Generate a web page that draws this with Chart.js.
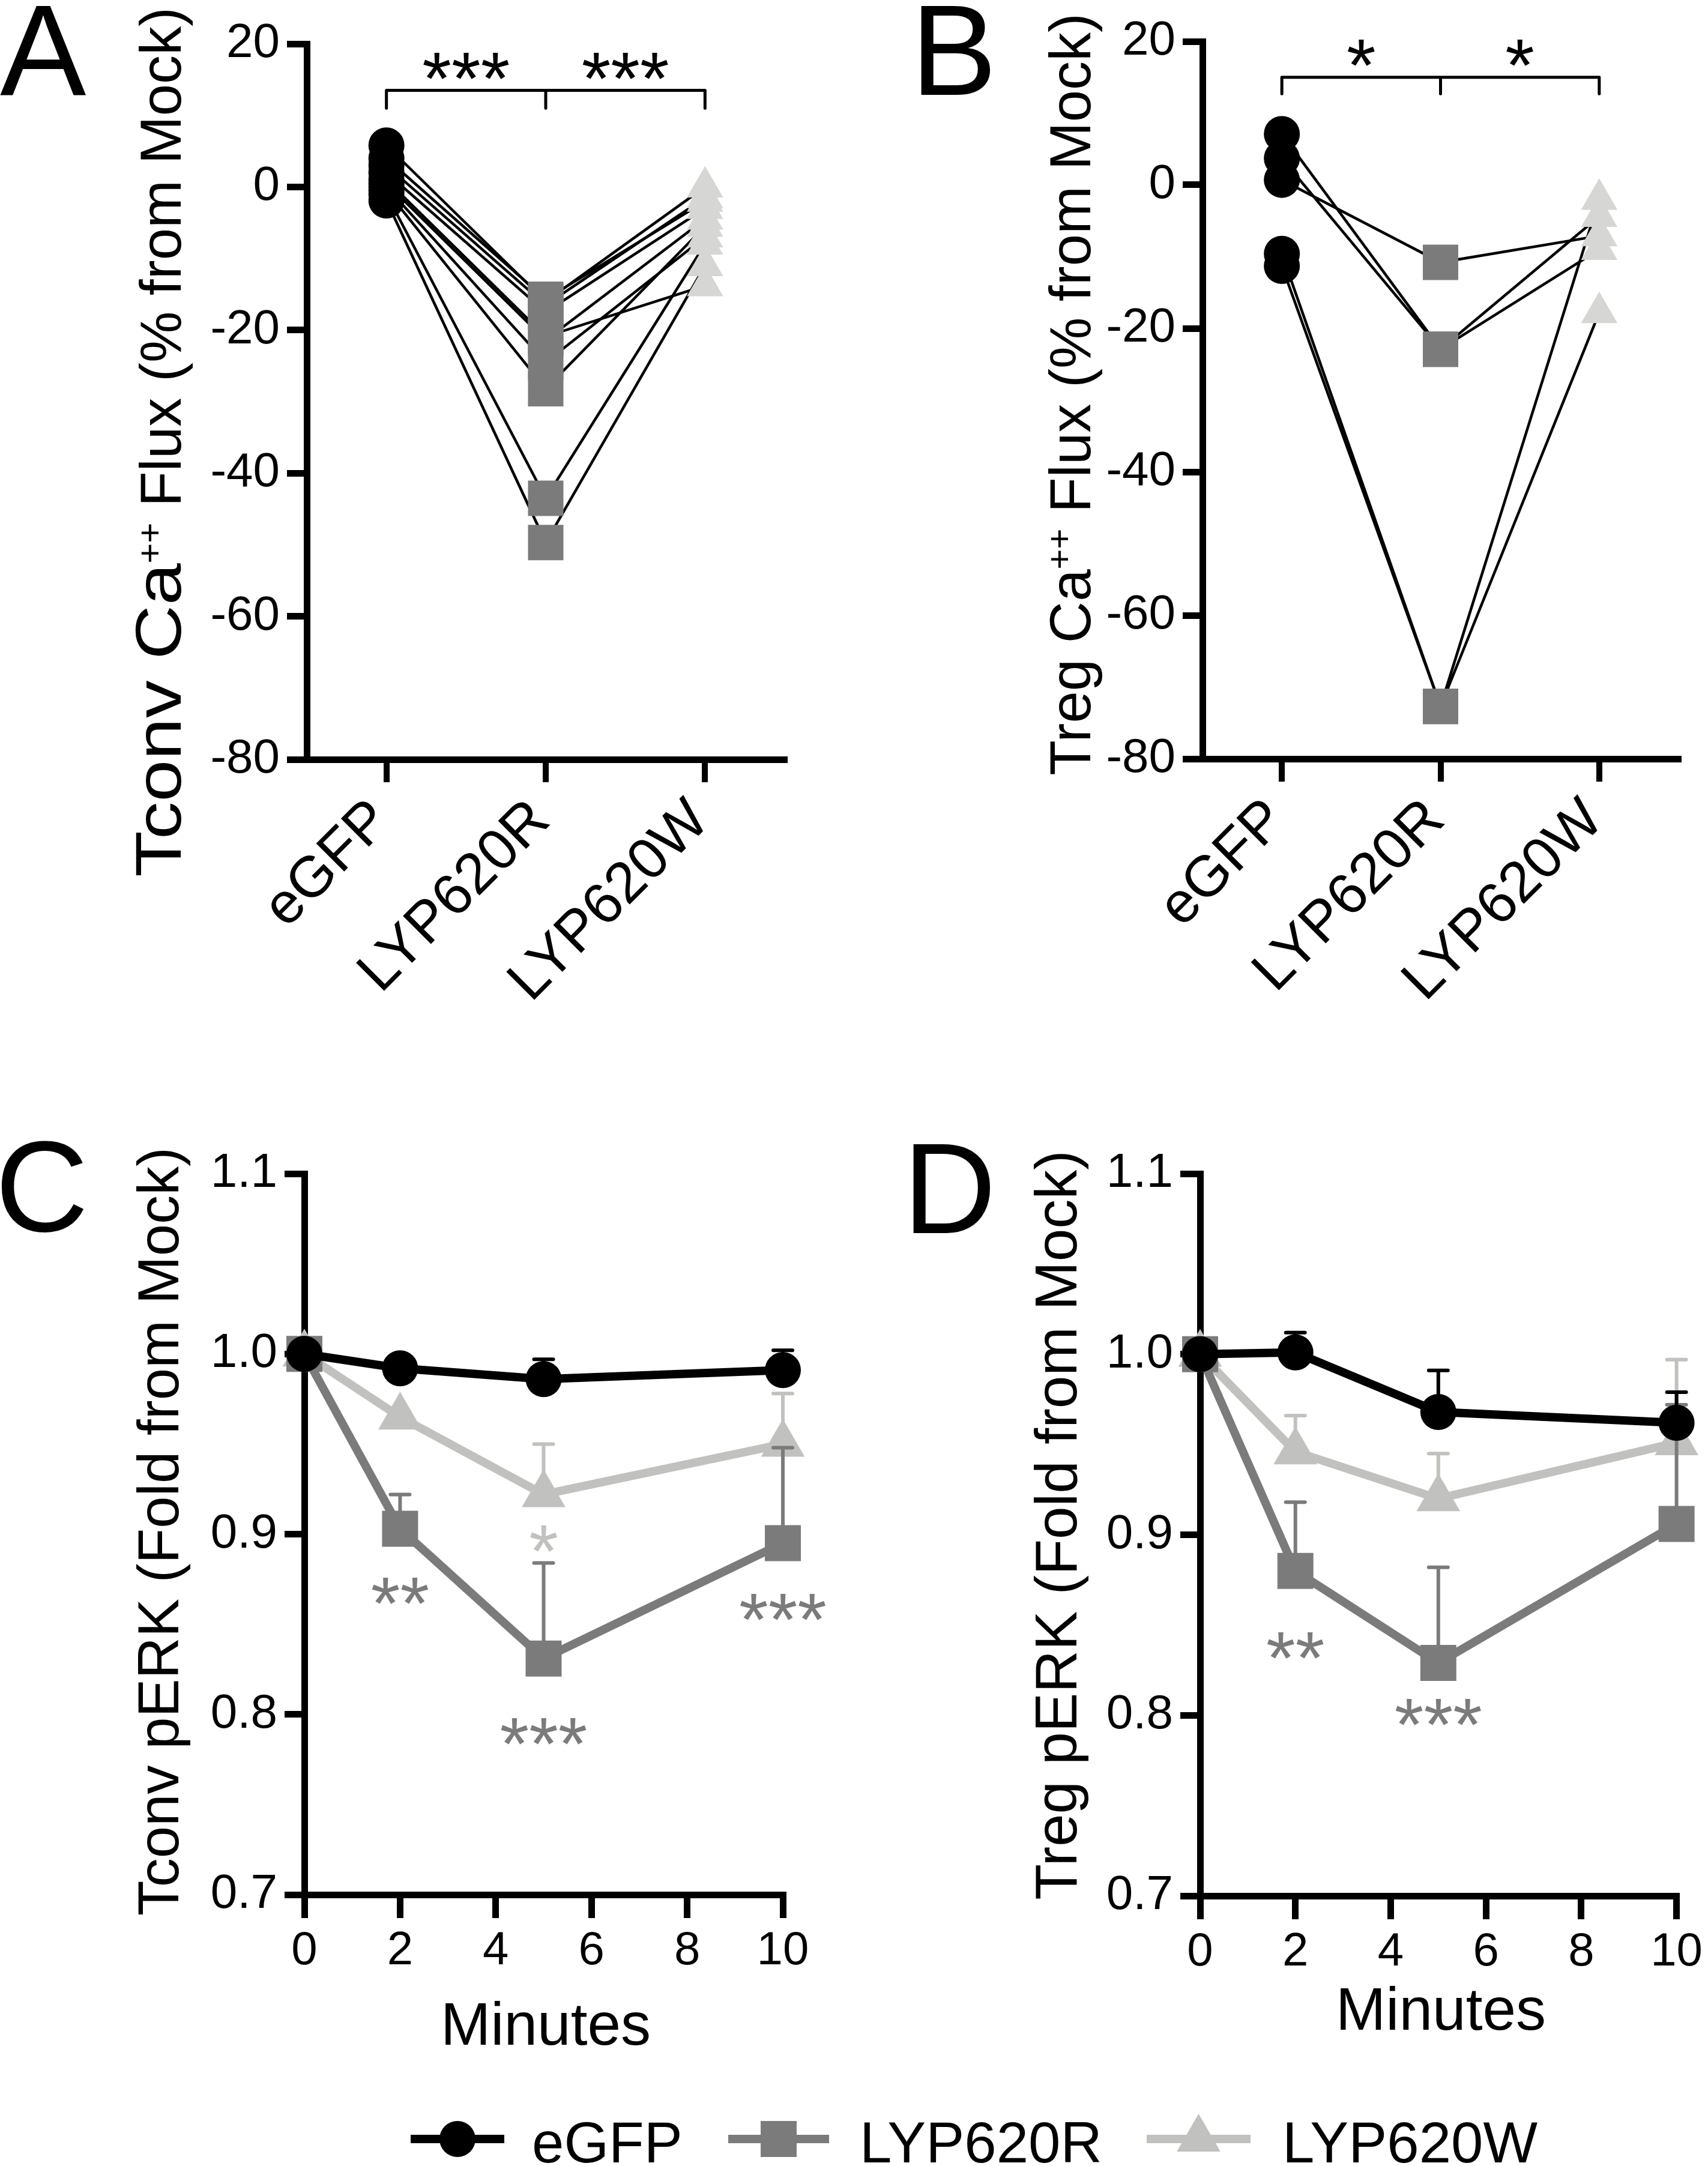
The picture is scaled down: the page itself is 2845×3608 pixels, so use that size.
<!DOCTYPE html>
<html>
<head>
<meta charset="utf-8">
<title>LYP620 Ca flux and pERK</title>
<script src="https://cdn.jsdelivr.net/npm/chart.js@4.4.1/dist/chart.umd.min.js"></script>
<style>
  html, body { margin: 0; padding: 0; background: #fff; }
  #fig { position: relative; width: 2845px; height: 3608px; overflow: hidden; background: #fff; }
  #fig canvas { position: absolute; }
</style>
</head>
<body>
<div id="fig">
  <canvas id="panelA" width="1420" height="1760" style="left:0;top:0;width:1420px;height:1760px"></canvas>
  <canvas id="panelB" width="1425" height="1760" style="left:1420px;top:0;width:1425px;height:1760px"></canvas>
  <canvas id="panelC" width="1420" height="1650" style="left:0;top:1800px;width:1420px;height:1650px"></canvas>
  <canvas id="panelD" width="1425" height="1650" style="left:1420px;top:1800px;width:1425px;height:1650px"></canvas>
  <canvas id="legend" width="2845" height="148" style="left:0;top:3460px;width:2845px;height:148px"></canvas>
</div>
<script>
'use strict';

// ---- data ----
var groups = ['eGFP', 'LYP620R', 'LYP620W'];
var seriesNames = ['eGFP', 'LYP620R', 'LYP620W'];

// A: Tconv Ca++ flux, one entry per donor (paired)
var tconvCaEgfp = [5.8, 3.0, 2.0, 1.0, 0.5, 0.0, -0.5, -1.0, -1.9, 4.0];
var tconvCaR    = [-16.0, -16.5, -17.5, -20.9, -21.4, -24.5, -28.2, -43.5, -49.7, -15.7];
var tconvCaW    = [0.0, -1.5, -3.0, -13.8, -4.5, -7.0, -5.5, -8.0, -11.0, -2.0];
var tconvCaStars = ['***', '***'];

// B: Treg Ca++ flux
var tregCaEgfp = [7.1, 3.7, 0.7, -9.6, -11.3];
var tregCaR    = [-22.9, -22.9, -10.8, -72.7, -72.7];
var tregCaW    = [-4.4, -9.0, -7.1, -2.0, -17.8];
var tregCaStars = ['*', '*'];

var caTicks = [20, 0, -20, -40, -60, -80];

// C / D: pERK time course
var minutes = [0, 2, 5, 10];
var minuteTicks = [0, 2, 4, 6, 8, 10];
var perkTicks = [0.7, 0.8, 0.9, 1.0, 1.1];

var tconvPerkEgfp    = [1.0, 0.992, 0.986, 0.991];
var tconvPerkEgfpErr = [0, 0, 0.011, 0.011];
var tconvPerkR       = [1.0, 0.903, 0.831, 0.895];
var tconvPerkRErr    = [0, 0.019, 0.053, 0.053];
var tconvPerkW       = [1.0, 0.965, 0.922, 0.950];
var tconvPerkWErr    = [0, 0, 0.028, 0.028];

var tregPerkEgfp    = [1.0, 1.001, 0.968, 0.962];
var tregPerkEgfpErr = [0, 0.011, 0.023, 0.017];
var tregPerkR       = [1.0, 0.880, 0.829, 0.906];
var tregPerkRErr    = [0, 0.038, 0.053, 0.066];
var tregPerkW       = [1.0, 0.946, 0.920, 0.951];
var tregPerkWErr    = [0, 0.020, 0.025, 0.046];

// significance marks (x in minutes, y in fold units)
var tconvStarX    = [2, 5, 5, 10];
var tconvStarY    = [0.871, 0.900, 0.793, 0.862];
var tconvStarText = ['**', '*', '***', '***'];
var tconvStarTone = ['dark', 'light', 'dark', 'dark'];
var tregStarX    = [2, 5];
var tregStarY    = [0.841, 0.804];
var tregStarText = ['**', '***'];
var tregStarTone = ['dark', 'dark'];

// ---- styles ----
var FONT = "'Liberation Sans', Arial, Helvetica, sans-serif";
var BLACK = '#000000';
var DARK = '#7b7b7b';
var LIGHT = '#c1c1bf';
var PALE = '#d6d6d4';
var TONES = { dark: DARK, light: LIGHT };
var LETTER_SIZE = 215;
var STAR_SIZE = 125;

var perkStyles = [
  { color: BLACK, pointStyle: 'circle', radius: 30 },
  { color: DARK, pointStyle: 'rect', radius: 42.4 },
  { color: LIGHT, pointStyle: 'triangle', radius: 42 }
];

function drawMarker(ctx, style, r, x, y) {
  ctx.beginPath();
  if (style === 'circle') {
    ctx.arc(x, y, r, 0, Math.PI * 2);
  } else if (style === 'rect') {
    var s = r * Math.SQRT1_2;
    ctx.rect(x - s, y - s, 2 * s, 2 * s);
  } else {
    for (var k = 0; k < 3; k++) {
      var a = k * 2 * Math.PI / 3;
      var px = x + Math.sin(a) * r, py = y - Math.cos(a) * r;
      if (k === 0) ctx.moveTo(px, py); else ctx.lineTo(px, py);
    }
    ctx.closePath();
  }
  ctx.fill();
}

// parts: [text, size, stretch, raise]
function drawYTitle(ctx, t) {
  ctx.save();
  ctx.translate(t.x, t.end);
  ctx.rotate(-Math.PI / 2);
  ctx.textAlign = 'left';
  ctx.textBaseline = 'alphabetic';
  ctx.fillStyle = BLACK;
  var widths = [], total = 0, i, p;
  for (i = 0; i < t.parts.length; i++) {
    p = t.parts[i];
    ctx.font = p[1] + 'px ' + FONT;
    widths.push(ctx.measureText(p[0]).width * p[2]);
    total += widths[i];
  }
  var x = -total;
  for (i = 0; i < t.parts.length; i++) {
    p = t.parts[i];
    ctx.save();
    ctx.font = p[1] + 'px ' + FONT;
    ctx.translate(x, -p[3]);
    ctx.scale(p[2], 1);
    ctx.fillText(p[0], 0, 0);
    ctx.restore();
    x += widths[i];
  }
  ctx.restore();
}

function drawBracket(chart, b) {
  var ctx = chart.ctx;
  var ys = chart.scales.y, xs = chart.scales.x;
  var yLine = ys.getPixelForValue(b.value);
  var yLeg = ys.getPixelForValue(b.leg);
  var px = [xs.getPixelForValue(0), xs.getPixelForValue(1), xs.getPixelForValue(2)];
  ctx.strokeStyle = BLACK;
  ctx.lineWidth = 5;
  ctx.lineCap = 'round';
  ctx.beginPath();
  ctx.moveTo(px[0], yLine);
  ctx.lineTo(px[2], yLine);
  for (var i = 0; i < 3; i++) {
    ctx.moveTo(px[i], yLine);
    ctx.lineTo(px[i], yLeg);
  }
  ctx.stroke();
  ctx.fillStyle = BLACK;
  ctx.font = STAR_SIZE + 'px ' + FONT;
  ctx.textAlign = 'center';
  ctx.textBaseline = 'alphabetic';
  for (var j = 0; j < 2; j++) {
    ctx.fillText(b.stars[j], (px[j] + px[j + 1]) / 2, yLine - 48 + 0.57 * STAR_SIZE);
  }
}

function drawStars(chart, s) {
  var ctx = chart.ctx;
  ctx.font = STAR_SIZE + 'px ' + FONT;
  ctx.textAlign = 'center';
  ctx.textBaseline = 'alphabetic';
  for (var i = 0; i < s.x.length; i++) {
    ctx.fillStyle = TONES[s.tone[i]];
    ctx.fillText(s.text[i], chart.scales.x.getPixelForValue(s.x[i]),
      chart.scales.y.getPixelForValue(s.y[i]) + 0.57 * STAR_SIZE);
  }
}

function decorPlugin(spec) {
  return {
    id: 'decor',
    afterDraw: function (chart) {
      var ctx = chart.ctx;
      ctx.save();
      ctx.fillStyle = BLACK;
      ctx.textAlign = 'left';
      ctx.textBaseline = 'alphabetic';
      ctx.font = LETTER_SIZE + 'px ' + FONT;
      ctx.fillText(spec.letter[0], spec.letter[1], spec.letter[2]);
      drawYTitle(ctx, spec.yTitle);
      if (spec.xTitle) {
        ctx.fillStyle = BLACK;
        ctx.font = '100px ' + FONT;
        ctx.textAlign = 'center';
        ctx.fillText(spec.xTitle[0], spec.xTitle[1], spec.xTitle[2]);
      }
      if (spec.bracket) drawBracket(chart, spec.bracket);
      if (spec.stars) drawStars(chart, spec.stars);
      ctx.restore();
    }
  };
}

var errorBarPlugin = {
  id: 'errorBars',
  afterDatasetDraw: function (chart, args) {
    var ds = chart.data.datasets[args.index];
    if (!ds.errors) return;
    var ctx = chart.ctx, ys = chart.scales.y;
    ctx.save();
    ctx.strokeStyle = ds.borderColor;
    ctx.lineWidth = 6;
    ctx.lineCap = 'round';
    for (var i = 0; i < ds.data.length; i++) {
      var e = ds.errors[i];
      if (!e) continue;
      var pt = args.meta.data[i];
      var top = ys.getPixelForValue(ds.data[i].y + e);
      ctx.beginPath();
      ctx.moveTo(pt.x, pt.y);
      ctx.lineTo(pt.x, top);
      ctx.moveTo(pt.x - 16, top);
      ctx.lineTo(pt.x + 16, top);
      ctx.stroke();
    }
    ctx.restore();
  }
};

function yAxis(min, max, ticks, width, fmt) {
  return {
    type: 'linear',
    min: min,
    max: max,
    afterFit: function (s) { s.width = width; },
    afterBuildTicks: function (s) { s.ticks = ticks.map(function (v) { return { value: v }; }); },
    grid: { drawOnChartArea: false, drawTicks: true, tickLength: 33, tickWidth: 11, tickColor: BLACK, lineWidth: 11, color: BLACK },
    border: { display: true, color: BLACK, width: 11 },
    ticks: { color: BLACK, padding: 12, font: { family: FONT, size: 80 }, callback: fmt }
  };
}

function baseOptions(padding, scales) {
  return {
    responsive: false,
    animation: false,
    devicePixelRatio: 1,
    events: [],
    layout: { padding: padding },
    plugins: { legend: { display: false }, tooltip: { enabled: false } },
    scales: scales
  };
}

function makeCaPanel(id, egfp, r, w, spec) {
  var sets = [];
  for (var i = 0; i < egfp.length; i++) {
    sets.push({
      data: [egfp[i], r[i], w[i]],
      borderColor: BLACK, borderWidth: 4.5, pointRadius: 0, tension: 0, clip: false, order: 2
    });
  }
  var cols = [egfp, r, w];
  var looks = [['circle', 30, BLACK], ['rect', 41.7, DARK], ['triangle', 35, PALE]];
  for (var c = 0; c < 3; c++) {
    sets.push({
      data: cols[c].map(function (v) { return { x: groups[c], y: v }; }),
      showLine: false, pointStyle: looks[c][0], pointRadius: looks[c][1],
      pointBackgroundColor: looks[c][2], pointBorderWidth: 0, clip: false, order: 1
    });
  }
  return new Chart(document.getElementById(id), {
    type: 'line',
    data: { labels: groups, datasets: sets },
    options: baseOptions(spec.padding, {
      x: {
        type: 'category',
        offset: true,
        afterFit: function (s) { s.height = spec.xHeight; },
        grid: { drawOnChartArea: false, drawTicks: true, tickLength: 38, tickWidth: 10, tickColor: BLACK, lineWidth: 10, color: BLACK },
        border: { display: true, color: BLACK, width: 11 },
        ticks: { color: BLACK, autoSkip: false, minRotation: 45, maxRotation: 45, padding: 8, labelOffset: -8, font: { family: FONT, size: 96 } }
      },
      y: yAxis(-80, 20, caTicks, spec.yWidth, function (v) { return String(v); })
    }),
    plugins: [decorPlugin(spec)]
  });
}

function perkSeries(vals, errs, k) {
  var st = perkStyles[k];
  return {
    label: seriesNames[k],
    data: minutes.map(function (m, i) { return { x: m, y: vals[i] }; }),
    errors: errs,
    borderColor: st.color, backgroundColor: st.color, borderWidth: 14, tension: 0,
    pointStyle: st.pointStyle, pointRadius: st.radius, pointBackgroundColor: st.color,
    pointBorderWidth: 0, clip: false
  };
}

function makePerkPanel(id, sets, spec) {
  return new Chart(document.getElementById(id), {
    type: 'line',
    data: { datasets: sets },
    options: baseOptions(spec.padding, {
      x: {
        type: 'linear',
        min: 0,
        max: 10,
        afterFit: function (s) { s.height = spec.xHeight; },
        afterBuildTicks: function (s) { s.ticks = minuteTicks.map(function (v) { return { value: v }; }); },
        grid: { drawOnChartArea: false, drawTicks: true, tickLength: 39, tickWidth: 11, tickColor: BLACK, lineWidth: 11, color: BLACK },
        border: { display: true, color: BLACK, width: 11 },
        ticks: { color: BLACK, padding: 9, font: { family: FONT, size: 78 }, callback: function (v) { return String(v); } }
      },
      y: yAxis(0.7, 1.1, perkTicks, spec.yWidth, function (v) { return v.toFixed(1); })
    }),
    plugins: [errorBarPlugin, decorPlugin(spec)]
  });
}

makeCaPanel('panelA', tconvCaEgfp, tconvCaR, tconvCaW, {
  padding: { left: 0, top: 73, right: 113, bottom: 0 },
  yWidth: 511, xHeight: 495,
  letter: ['A', 0, 158],
  yTitle: {
    parts: [['Tconv Ca', 108, 1.16, 0], ['++', 58, 1, 32], [' Flux (% from Mock)', 96, 1, 0]],
    x: 301, end: 12
  },
  bracket: { value: 13.5, leg: 11.0, stars: tconvCaStars }
});

makeCaPanel('panelB', tregCaEgfp, tregCaR, tregCaW, {
  padding: { left: 0, top: 69, right: 49, bottom: 0 },
  yWidth: 583, xHeight: 496,
  letter: ['B', 97, 158],
  yTitle: {
    parts: [['Treg Ca', 96, 1, 0], ['++', 58, 1, 32], [' Flux (% from Mock)', 96, 1, 0]],
    x: 396, end: 22
  },
  bracket: { value: 15.0, leg: 12.7, stars: tregCaStars }
});

makePerkPanel('panelC', [
  perkSeries(tconvPerkEgfp, tconvPerkEgfpErr, 0),
  perkSeries(tconvPerkR, tconvPerkRErr, 1),
  perkSeries(tconvPerkW, tconvPerkWErr, 2)
], {
  padding: { left: 0, top: 155, right: 116, bottom: 0 },
  yWidth: 507, xHeight: 294,
  letter: ['C', -8, 251],
  yTitle: { parts: [['Tconv pERK (Fold from Mock)', 96, 1, 0]], x: 297, end: 111 },
  xTitle: ['Minutes', 909, 1606],
  stars: { x: tconvStarX, y: tconvStarY, text: tconvStarText, tone: tconvStarTone }
});

makePerkPanel('panelD', [
  perkSeries(tregPerkEgfp, tregPerkEgfpErr, 0),
  perkSeries(tregPerkR, tregPerkRErr, 1),
  perkSeries(tregPerkW, tregPerkWErr, 2)
], {
  padding: { left: 0, top: 155, right: 44, bottom: 0 },
  yWidth: 579, xHeight: 292,
  letter: ['D', 84, 254],
  yTitle: { parts: [['Treg pERK (Fold from Mock)', 98, 1, 0]], x: 373, end: 116 },
  xTitle: ['Minutes', 980, 1581],
  stars: { x: tregStarX, y: tregStarY, text: tregStarText, tone: tregStarTone }
});

// shared legend: line + marker, then name
var legendSpots = [[684, 840, 886], [1213, 1381, 1432], [1910, 2083, 2136]];
var legendPlugin = {
  id: 'lineLegend',
  afterDraw: function (chart) {
    var ctx = chart.ctx;
    ctx.save();
    chart.data.datasets.forEach(function (ds, i) {
      var s = legendSpots[i], yMid = 103;
      ctx.strokeStyle = ds.borderColor;
      ctx.lineWidth = ds.borderWidth;
      ctx.beginPath();
      ctx.moveTo(s[0], yMid);
      ctx.lineTo(s[1], yMid);
      ctx.stroke();
      ctx.fillStyle = ds.pointBackgroundColor;
      drawMarker(ctx, ds.pointStyle, ds.pointRadius, (s[0] + s[1]) / 2, yMid);
      ctx.fillStyle = BLACK;
      ctx.font = '96px ' + FONT;
      ctx.textAlign = 'left';
      ctx.textBaseline = 'alphabetic';
      ctx.fillText(ds.label, s[2], 142);
    });
    ctx.restore();
  }
};

new Chart(document.getElementById('legend'), {
  type: 'line',
  data: {
    datasets: perkStyles.map(function (st, k) {
      return {
        label: seriesNames[k], data: [], borderColor: st.color, borderWidth: 14,
        pointStyle: st.pointStyle, pointRadius: st.radius, pointBackgroundColor: st.color
      };
    })
  },
  options: {
    responsive: false,
    animation: false,
    devicePixelRatio: 1,
    events: [],
    plugins: { legend: { display: false }, tooltip: { enabled: false } },
    scales: { x: { display: false }, y: { display: false } }
  },
  plugins: [legendPlugin]
});
</script>
</body>
</html>
